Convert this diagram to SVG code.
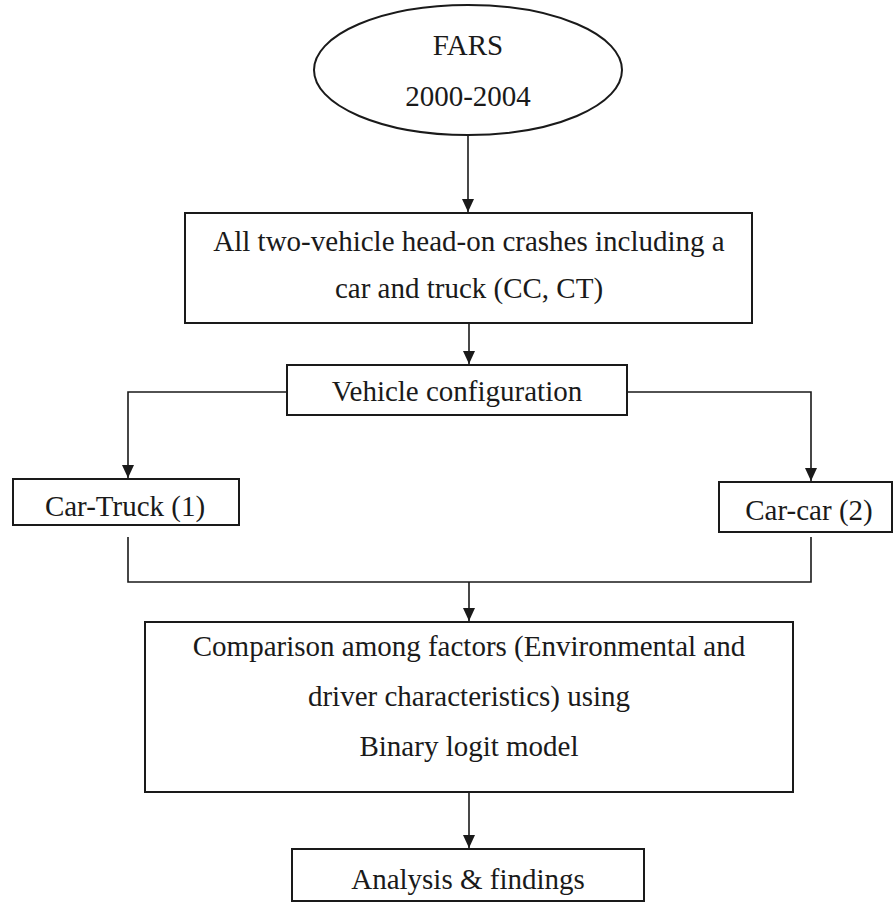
<svg xmlns="http://www.w3.org/2000/svg" width="893" height="903" viewBox="0 0 893 903">
<style>
.box{fill:#fff;stroke:#1a1a1a;stroke-width:2}
.t{font-family:"Liberation Serif","Times New Roman",serif;font-size:29px;fill:#1a1a1a;text-anchor:middle}
.c{fill:none;stroke:#1a1a1a;stroke-width:1.6}
</style>
<defs>
<marker id="ah" markerWidth="12" markerHeight="13" refX="6" refY="13" orient="auto-start-reverse" markerUnits="userSpaceOnUse" viewBox="0 0 12 13">
<path d="M0,0 L12,0 L6,13 Z" fill="#1a1a1a" transform="rotate(0)"/>
</marker>
<marker id="ar" markerWidth="13" markerHeight="12" refX="13" refY="6" orient="auto" markerUnits="userSpaceOnUse" viewBox="0 0 13 12">
<path d="M0,0 L13,6 L0,12 Z" fill="#1a1a1a"/>
</marker>
</defs>
<rect width="893" height="903" fill="#fff"/>
<g id="connectors">
<path class="c" d="M468,135 L468,212" marker-end="url(#ar)"/>
<path class="c" d="M469,323 L469,364" marker-end="url(#ar)"/>
<path class="c" d="M287,392 L128,392 L128,478" marker-end="url(#ar)"/>
<path class="c" d="M627,392 L811,392 L811,481" marker-end="url(#ar)"/>
<path class="c" d="M128,537 L128,582 L811,582 L811,537"/>
<path class="c" d="M469,582 L469,621" marker-end="url(#ar)"/>
<path class="c" d="M469,792 L469,848" marker-end="url(#ar)"/>
</g>
<g id="fars">
<ellipse class="box" cx="468" cy="70" rx="154" ry="65"/>
<text class="t" x="468" y="55" font-size="28">FARS</text>
<text class="t" x="468" y="106" font-size="28">2000-2004</text>
</g>
<g id="all-crashes">
<rect class="box" x="185" y="213" width="567" height="110"/>
<text class="t" x="469" y="251">All two-vehicle head-on crashes including a</text>
<text class="t" x="469" y="298">car and truck (CC, CT)</text>
</g>
<g id="vehicle-config">
<rect class="box" x="287" y="365" width="340" height="50"/>
<text class="t" x="457" y="401">Vehicle configuration</text>
</g>
<g id="car-truck">
<rect class="box" x="13" y="479" width="226" height="46"/>
<text class="t" x="125" y="516">Car-Truck (1)</text>
</g>
<g id="car-car">
<rect class="box" x="719" y="482" width="173" height="50"/>
<text class="t" x="809" y="520">Car-car (2)</text>
</g>
<g id="comparison">
<rect class="box" x="145" y="622" width="648" height="170"/>
<text class="t" x="469" y="656">Comparison among factors (Environmental and</text>
<text class="t" x="469" y="706">driver characteristics) using</text>
<text class="t" x="469" y="756">Binary logit model</text>
</g>
<g id="analysis">
<rect class="box" x="292" y="849" width="352" height="52"/>
<text class="t" x="468" y="889">Analysis &amp; findings</text>
</g>
</svg>
